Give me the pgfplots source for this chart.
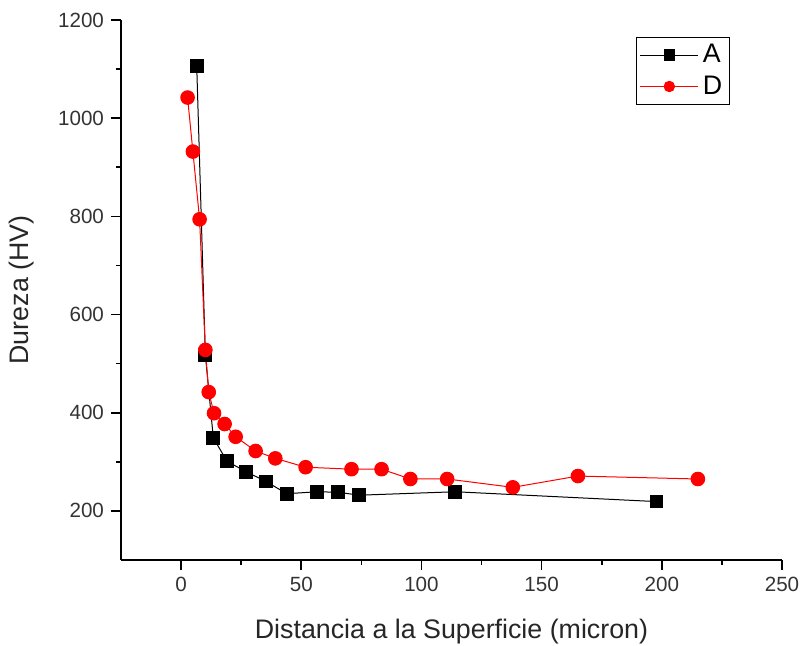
\documentclass[border=0pt]{standalone}
\usepackage{fontspec}
\setmainfont{Liberation Sans}
\usepackage{pgfplots}
\pgfplotsset{compat=1.18}

% hardness profiles
\pgfplotstableread{
x      y
6.5    1107
10.1   518
13.4   349
19.1   301
27.0   280
35.3   260
44.0   235
56.5   239
65.4   238
74.0   232
114.1  239
197.8  219
}\seriesA

\pgfplotstableread{
x      y
2.7    1042
4.9    932
7.7    794
10.1   528
11.5   442
13.7   399
18.1   377
22.7   351
31.0   322
39.2   307
51.8   289
70.9   285
83.4   285
95.4   265
110.7  265
138.0  248
165.1  271
215.0  265
}\seriesD

\begin{document}
\begin{tikzpicture}
\begin{axis}[
    name=ax,
    width=330.5pt, height=270pt,
    scale only axis,
    xmin=-25, xmax=250,
    ymin=100, ymax=1200,
    xtick={0,50,...,250},
    ytick={200,400,...,1200},
    minor x tick num=1,
    minor y tick num=1,
    axis x line*=bottom,
    axis y line*=left,
    axis line style={-, line width=0.8pt},
    tick align=outside,
    major tick length=5pt,
    minor tick length=2.5pt,
    tick style={line width=0.8pt, black},
    /pgf/number format/assume math mode=true,
    /pgf/number format/1000 sep={},
    tick label style={font=\fontsize{10.3}{12}\selectfont, text=black!80},
    label style={font=\fontsize{13.4}{16}\selectfont, text=black!85},
    xlabel={Distancia a la Superficie (micron)},
    ylabel={Dureza (HV)},
    xlabel style={at={(axis description cs:0.5,-0.133)}, anchor=center},
    ylabel style={at={(axis description cs:-0.15,0.5)}, anchor=center, rotate=0},
    legend style={at={(0.921,0.969)}, anchor=north east,
        draw=black, line width=0.6pt,
        font=\fontsize{13.4}{16}\selectfont,
        inner sep=1.5pt, row sep=1pt,
        cells={anchor=west}},
    legend image code/.code={
        \draw[#1, mark=none] (0pt,0pt) -- (29pt,0pt);
        \draw[#1, draw=none, mark size=2.6pt, mark indices={1}] plot coordinates {(14.5pt,0pt)};
    },
]
\addplot[black, line width=0.5pt, mark=square*, mark size=3.2pt, mark options={solid}]
    table[x=x, y=y] {\seriesA};
\addlegendentry{A}
\addplot[red, line width=0.5pt, mark=*, mark size=3.4pt, mark options={solid, fill=red}]
    table[x=x, y=y] {\seriesD};
\addlegendentry{D}
\end{axis}
\pgfresetboundingbox
\path[use as bounding box] ([xshift=-60.5pt,yshift=-43pt]ax.south west) rectangle ([xshift=10pt,yshift=10pt]ax.north east);
\end{tikzpicture}
\end{document}
